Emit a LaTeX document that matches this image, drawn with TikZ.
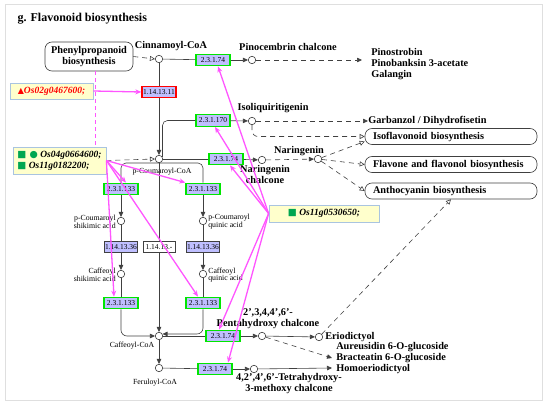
\documentclass[tikz,border=0pt]{standalone}
\usepackage{fontspec}
\setmainfont{Liberation Serif}
\newfontfamily\symfont{DejaVu Sans}
\usetikzlibrary{arrows.meta, positioning, calc}
\definecolor{enzfill}{HTML}{BFBFFF}
\definecolor{enzgreen}{HTML}{00E600}
\definecolor{linegray}{HTML}{404040}
\definecolor{pinkline}{HTML}{FF55FF}
\definecolor{genefill}{HTML}{FFFFCC}
\definecolor{geneedge}{HTML}{A9C4E0}
\definecolor{markgreen}{HTML}{00A651}
\tikzset{
	>={Triangle[length=5pt, width=4.5pt]},
	enz/.style={draw=enzgreen, line width=1.3pt, fill=enzfill, minimum width=34pt,
		minimum height=11.5pt, inner sep=0.5pt, font=\fontsize{7.5}{7.5}\selectfont},
	enzgray/.style={enz, draw=linegray, line width=0.5pt, minimum width=32pt},
	cpd/.style={circle, draw=linegray, fill=white, minimum size=7.5pt, inner sep=0pt},
	lbl/.style={font=\bfseries\fontsize{10.3}{11}\selectfont, inner sep=0pt, align=center},
	small/.style={font=\fontsize{7.8}{7.8}\selectfont, inner sep=0pt},
	pathbox/.style={draw=linegray, rounded corners=7pt, font=\bfseries\fontsize{10.3}{11}\selectfont},
	wide/.style={minimum height=16pt, text width=156pt, inner xsep=8pt, inner ysep=0pt, align=left},
	flow/.style={draw=linegray, ->},
	dashflow/.style={draw=linegray, dash pattern=on 5pt off 4pt, ->},
	dashopen/.style={draw=linegray, dash pattern=on 5pt off 4pt,
		-{Triangle[open, length=5pt, width=5pt]}},
	gene/.style={draw=geneedge, fill=genefill, line width=0.8pt, inner sep=3pt,
		font=\bfseries\itshape\fontsize{9.5}{11}\selectfont, align=left},
	pinkarrow/.style={draw=pinkline, line width=1.3pt, -{Stealth[length=6pt, width=5pt]}},
}
\begin{document}
\begin{tikzpicture}[x=1pt, y=-1pt, line width=0.6pt]
\useasboundingbox (0,0) rectangle (550,409);
\draw[gray!25, line width=1pt] (5,5) rectangle (542,401);

\node[anchor=west, font=\bfseries\fontsize{12}{14}\selectfont] (title) at (14,19) {g. Flavonoid biosynthesis};

% pathway boxes
\node[pathbox, minimum width=88pt, minimum height=29pt, inner sep=1pt, align=center] (phenyl) at (89,56.5) {Phenylpropanoid\\biosynthesis};
\node[pathbox, wide] (isofl) at (451,136.5) {Isoflavonoid biosynthesis};
\node[pathbox, wide] (flav) at (451,164.5) {Flavone and flavonol biosynthesis};
\node[pathbox, wide] (antho) at (451,191) {Anthocyanin biosynthesis};

% compounds
\node[cpd] (cinn) at (159,59) {};
\node[lbl] (cinnl) at (171,46) {Cinnamoyl-CoA};
\node[cpd] (pinoc) at (252,60) {};
\node[lbl] (pinocl) at (288,47) {Pinocembrin chalcone};
\node[lbl, anchor=west, align=left] (pinos) at (371,64.5) {Pinostrobin\\Pinobanksin 3-acetate\\Galangin};
\coordinate (pinosin) at (362,60);
\node[cpd] (isoliq) at (252,121) {};
\node[lbl] (isoliql) at (273,108) {Isoliquiritigenin};
\node[lbl, anchor=west] (garb) at (368,121) {Garbanzol / Dihydrofisetin};
\node[cpd] (pcoum) at (159,159) {};
\node[small] (pcouml) at (162,172) {p-Coumaroyl-CoA};
\node[cpd] (narch) at (262,160) {};
\node[lbl] (narchl) at (265,174) {Naringenin\\chalcone};
\node[cpd] (nar) at (318,159) {};
\node[lbl] (narl) at (299,151) {Naringenin};
\node[cpd] (pcs) at (121,221) {};
\node[small, anchor=east, align=right] (pcsl) at (116,222) {p-Coumaroyl\\shikimic acid};
\node[cpd] (pcq) at (203,221) {};
\node[small, anchor=west, align=left] (pcql) at (208,222) {p-Coumaroyl\\quinic acid};
\node[cpd] (cs) at (121,274) {};
\node[small, anchor=east, align=right] (csl) at (116,275) {Caffeoyl\\shikimic acid};
\node[cpd] (cq) at (203,274) {};
\node[small, anchor=west, align=left] (cql) at (208,275) {Caffeoyl\\quinic acid};
\node[cpd] (caff) at (159,336) {};
\node[small] (caffl) at (132,346) {Caffeoyl-CoA};
\node[cpd] (ferul) at (159,368) {};
\node[small] (ferull) at (155,383) {Feruloyl-CoA};
\node[cpd] (penta) at (262,336) {};
\node[lbl] (pental) at (268,319) {2',3,4,4',6'-\\Pentahydroxy chalcone};
\node[cpd] (erio) at (319,337) {};
\node[lbl, anchor=west] (eriol) at (325,337) {Eriodictyol};
\node[lbl, anchor=west, align=left] (aur) at (336,358) {Aureusidin 6-O-glucoside\\Bracteatin 6-O-glucoside\\Homoeriodictyol};
\coordinate (bract) at (332,358);
\coordinate (homo) at (332,368);
\node[cpd] (tetra) at (254,369) {};
\node[lbl] (tetral) at (289,383.5) {4,2',4',6'-Tetrahydroxy-\\3-methoxy chalcone};

% enzymes
\node[enz] (e74a) at (213,60) {2.3.1.74};
\node[enz, draw=red] (e1311) at (159,92) {1.14.13.11};
\node[enz] (e170) at (213,120.5) {2.3.1.170};
\node[enz] (e74b) at (226,159) {2.3.1.74};
\node[enz] (e133a) at (121,189) {2.3.1.133};
\node[enz] (e133b) at (203,189) {2.3.1.133};
\node[enzgray] (e136a) at (121,247) {1.14.13.36};
\node[enzgray, fill=white] (e1413) at (159,247) {1.14.13.-};
\node[enzgray] (e136b) at (203,247) {1.14.13.36};
\node[enz] (e133c) at (121,303) {2.3.1.133};
\node[enz] (e133d) at (203,303) {2.3.1.133};
\node[enz] (e74c) at (223,336) {2.3.1.74};
\node[enz] (e74d) at (215,369) {2.3.1.74};

% genes
\node[gene, text=red, minimum width=83pt, minimum height=16pt] (gene1) at (51.5,91) {{\symfont\fontsize{8}{8}\selectfont ▲}Os02g0467600;};
\node[gene, minimum width=93pt, minimum height=27pt] (gene2) at (59.5,160.5) {{\symfont\color{markgreen}■ ●} Os04g0664600;\\{\symfont\color{markgreen}■} Os11g0182200;};
\node[gene, minimum width=110pt, minimum height=17pt] (gene3) at (324,213.5) {{\symfont\color{markgreen}■} Os11g0530650;};

% main flow
\draw[dashopen] (phenyl.east) -- (cinn.west);
\draw[linegray] (cinn) -- (e74a);
\draw[flow] (e74a) -- (pinoc);
\draw[dashflow] (pinoc) -- (pinosin);
\draw[linegray] (cinn) -- (e1311);
\draw[flow] (e1311) -- (pcoum);
\draw[linegray, rounded corners=5pt] (pcoum.30) |- (e170.west);
\draw[flow] (e170) -- (isoliq);
\draw[dashflow] (isoliq) -- (garb.west);
\draw[dashopen, rounded corners=6pt] (isoliq.south) |- (isofl.west);
\draw[linegray] (pcoum) -- (e74b);
\draw[flow] (e74b) -- (narch);
\draw[dashflow] (narch) -- (nar);
\draw[dashopen] (nar) -- ([yshift=-5pt]isofl.west);
\draw[dashopen] (nar) -- (flav.west);
\draw[dashopen] (nar) -- (antho.west);
\draw[dashopen] (gene2.east) -- (pcoum.west);

% side branches
\coordinate (split) at (159,163);
\draw[linegray, rounded corners=5pt] (e133a.north) |- (split) -| (e133b.north);
\draw[flow] (e133a) -- (pcs);
\draw[linegray] (pcs) -- (e136a);
\draw[flow] (e136a) -- (cs);
\draw[linegray] (cs) -- (e133c);
\draw[flow, rounded corners=6pt] (e133c.south) |- (caff.west);
\draw[flow] (e133b) -- (pcq);
\draw[linegray] (pcq) -- (e136b);
\draw[flow] (e136b) -- (cq);
\draw[linegray] (cq) -- (e133d);
\draw[flow, rounded corners=6pt] (e133d.south) |- (caff.30);
\draw[linegray] (pcoum) -- (e1413);
\draw[flow] (e1413) -- (caff);

% lower chalcones
\draw[linegray] (caff.east) -- (e74c);
\draw[flow] (e74c) -- (penta);
\draw[flow] (penta) -- (erio);
\draw[dashflow] (penta) -- (bract);
\draw[dashopen] (erio) -- (antho.south);
\draw[flow] (caff) -- (ferul);
\draw[linegray] (ferul) -- (e74d);
\draw[flow] (e74d) -- (tetra);
\draw[flow] (tetra) -- (homo);

% gene links
\draw[pinkline, line width=1pt, dash pattern=on 4pt off 3pt] ([xshift=6pt]phenyl.south) -- ([xshift=35.5pt]gene2.north);
\draw[pinkarrow] (gene1.east) -- (e1311.west);
\draw[pinkarrow] (gene2.east) -- ([xshift=5pt]e133a.north);
\draw[pinkarrow] (gene2.east) -- (e133b.north west);
\draw[pinkarrow] (gene2.east) -- ([xshift=-7pt]e133c.north);
\draw[pinkarrow] (gene2.east) -- ([xshift=-5pt]e133d.north);
\draw[pinkarrow] (gene3.west) -- ([xshift=5pt]e74a.south);
\draw[pinkarrow] (gene3.west) -- ([xshift=2pt]e170.south);
\draw[pinkarrow] (gene3.west) -- ([xshift=4pt]e74b.south);
\draw[pinkarrow] (gene3.west) -- ([xshift=-4pt]e74c.north);
\draw[pinkarrow] (gene3.west) -- ([xshift=13pt]e74d.north);
\end{tikzpicture}
\end{document}
